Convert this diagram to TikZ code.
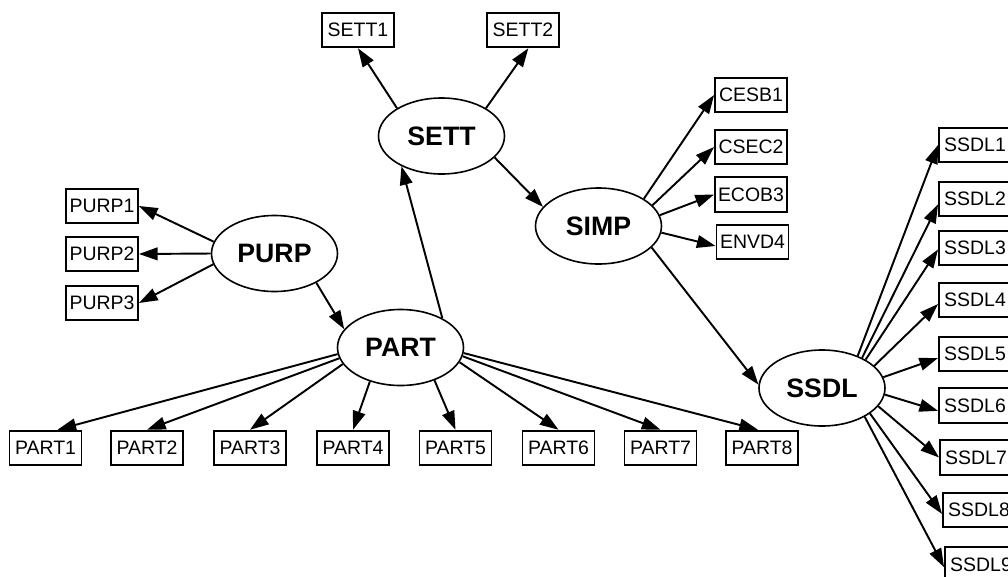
\documentclass[tikz,border=0pt]{standalone}
\usepackage{fontspec}
\setmainfont{Liberation Sans}
\usetikzlibrary{shapes.geometric,arrows.meta}
\tikzset{
  box/.style={draw, rectangle, line width=1.4pt, minimum width=54pt, minimum height=26pt, inner sep=0pt, font=\fontsize{14.6}{16}\selectfont},
  ell/.style={draw, ellipse, line width=1.2pt, minimum width=94.5pt, minimum height=57pt, inner sep=0pt, font=\bfseries\fontsize{20}{24}\selectfont},
  edge/.style={line width=1.45pt, -{Triangle[length=14pt,width=9.5pt]}}
}
\begin{document}
\begin{tikzpicture}[x=0.75pt,y=-0.75pt]
\useasboundingbox (0,0) rectangle (1008,576);
\clip (0,0) rectangle (1008,576);
% ellipses
\node[ell] (SETT) at (441.5,136) {SETT};
\node[ell] (PURP) at (274.5,253.5) {PURP};
\node[ell] (PART) at (400.5,347.5) {PART};
\node[ell] (SIMP) at (598.5,226) {SIMP};
\node[ell] (SSDL) at (822,388) {SSDL};
% boxes
\node[box] (SETT1) at (358,30) {SETT1};
\node[box] (SETT2) at (523,30) {SETT2};
\node[box] (PURP1) at (102,206) {PURP1};
\node[box] (PURP2) at (102,254) {PURP2};
\node[box] (PURP3) at (102,303) {PURP3};
\node[box] (PART1) at (45.5,448) {PART1};
\node[box] (PART2) at (147,448) {PART2};
\node[box] (PART3) at (250,448) {PART3};
\node[box] (PART4) at (353,448) {PART4};
\node[box] (PART5) at (455.5,448) {PART5};
\node[box] (PART6) at (558.5,448) {PART6};
\node[box] (PART7) at (660.5,448) {PART7};
\node[box] (PART8) at (762,448) {PART8};
\node[box] (CESB1) at (751,95) {CESB1};
\node[box] (CSEC2) at (751,147) {CSEC2};
\node[box] (ECOB3) at (751,194.5) {ECOB3};
\node[box] (ENVD4) at (752.5,242) {ENVD4};
\node[box] (SSDL1) at (975,145) {SSDL1};
\node[box] (SSDL2) at (975,199) {SSDL2};
\node[box] (SSDL3) at (975,248) {SSDL3};
\node[box] (SSDL4) at (975,300) {SSDL4};
\node[box] (SSDL5) at (975,354) {SSDL5};
\node[box] (SSDL6) at (975,405.5) {SSDL6};
\node[box] (SSDL7) at (976,457.5) {SSDL7};
\node[box] (SSDL8) at (979,510) {SSDL8};
\node[box] (SSDL9) at (981,564.5) {SSDL9};
% edges
\draw[edge] (SETT.148) -- (SETT1.south);
\draw[edge] (SETT.32) -- ([xshift=4pt]SETT2.south);
\draw[edge] (SETT.-22) -- (SIMP.161);
\draw[edge] (PART.35) -- (SETT.217);
\draw[edge] (PURP.169) -- (PURP1.east);
\draw[edge] (PURP.west) -- (PURP2.east);
\draw[edge] (PURP.190) -- (PURP3.east);
\draw[edge] (PURP.-35) -- (PART.162);
\draw[edge] (PART.186) -- ([xshift=9pt]PART1.north);
\draw[edge] (PART.190) -- (PART2.north);
\draw[edge] (PART.196) -- (PART3.north);
\draw[edge] (PART.228) -- (PART4.north);
\draw[edge] (PART.-44) -- (PART5.north);
\draw[edge] (PART.-14) -- (PART6.north);
\draw[edge] (PART.-8) -- (PART7.north);
\draw[edge] (PART.-5) -- ([xshift=-3pt]PART8.north);
\draw[edge] (SIMP.31) -- (CESB1.west);
\draw[edge] (SIMP.21) -- (CSEC2.west);
\draw[edge] (SIMP.10) -- (ECOB3.west);
\draw[edge] (SIMP.-6) -- ([yshift=-3pt]ENVD4.west);
\draw[edge] (SIMP.-22) -- (SSDL.177);
\draw[edge] (SSDL.42) -- (SSDL1.west);
\draw[edge] (SSDL.37) -- ([yshift=-4pt]SSDL2.west);
\draw[edge] (SSDL.33) -- ([yshift=-1pt]SSDL3.west);
\draw[edge] (SSDL.23) -- ([yshift=-3pt]SSDL4.west);
\draw[edge] (SSDL.10) -- ([yshift=-3pt]SSDL5.west);
\draw[edge] (SSDL.-6) -- ([yshift=-4pt]SSDL6.west);
\draw[edge] (SSDL.-18) -- (SSDL7.west);
\draw[edge] (SSDL.-28) -- ([yshift=-3pt]SSDL8.west);
\draw[edge] (SSDL.-34) -- ([yshift=-2pt]SSDL9.west);
\end{tikzpicture}
\end{document}
